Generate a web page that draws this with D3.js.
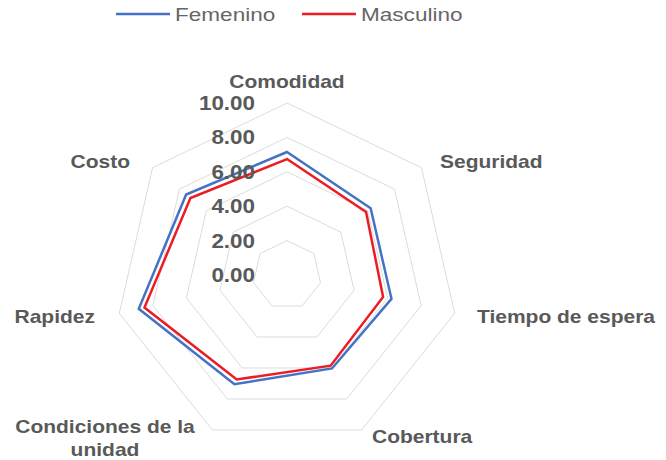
<!DOCTYPE html>
<html>
<head>
<meta charset="utf-8">
<script src="https://cdn.jsdelivr.net/npm/d3@7"></script>
<style>
  body { margin: 0; background: #fff; }
  text { font-family: "Liberation Sans", Arial, sans-serif; }
</style>
</head>
<body>
<div id="chart"></div>
<script>
var categories = ["Comodidad", "Seguridad", "Tiempo de espera", "Cobertura",
                  "Condiciones de la unidad", "Rapidez", "Costo"];
var femenino  = [7.15, 6.22, 6.23, 6.03, 7.05, 8.84, 7.5];
var masculino = [6.74, 5.88, 5.73, 5.85, 6.74, 8.5, 7.18];
var tickValues = [0, 2, 4, 6, 8, 10];

var width = 666, height = 460;
var cx = 287, cy = 275, radius = 172;

var svg = d3.select("#chart").append("svg")
    .attr("width", width)
    .attr("height", height);

var r = d3.scaleLinear().domain([0, 10]).range([0, radius]);
var angle = d3.scaleLinear().domain([0, categories.length]).range([0, 2 * Math.PI]);

var g = svg.append("g").attr("transform", "translate(" + cx + "," + cy + ")");

var radial = d3.lineRadial()
    .angle(function(d, i) { return angle(i); })
    .radius(function(d) { return r(d); })
    .curve(d3.curveLinearClosed);

// grid rings
g.selectAll(".ring")
  .data(tickValues.slice(1))
  .enter().append("path")
    .attr("class", "ring")
    .attr("d", function(t) { return radial(categories.map(function() { return t; })); })
    .attr("fill", "none")
    .attr("stroke", "#dcdcdc")
    .attr("stroke-width", 1);

// series
var series = [
  {name: "Femenino", values: femenino, color: "#4472c4"},
  {name: "Masculino", values: masculino, color: "#ec1c24"}
];

g.selectAll(".series")
  .data(series)
  .enter().append("path")
    .attr("class", "series")
    .attr("d", function(d) { return radial(d.values); })
    .attr("fill", "none")
    .attr("stroke", function(d) { return d.color; })
    .attr("stroke-width", 2.5);

// tick labels
g.selectAll(".tick")
  .data(tickValues)
  .enter().append("text")
    .attr("class", "tick")
    .attr("transform", function(t) { return "translate(-32," + (-r(t) + 7) + ") scale(1.12,1)"; })
    .attr("text-anchor", "end")
    .attr("font-size", 20)
    .attr("font-weight", "bold")
    .attr("fill", "#595959")
    .text(function(t) { return t.toFixed(2); });

// axis labels
var labelPos = [
  {x: 287, y: 88, anchor: "middle"},
  {x: 440, y: 168, anchor: "start"},
  {x: 477, y: 323, anchor: "start"},
  {x: 372, y: 443, anchor: "start"},
  {x: 105, y: 433, anchor: "middle"},
  {x: 95, y: 323, anchor: "end"},
  {x: 130, y: 168, anchor: "end"}
];

var labels = svg.selectAll(".axis-label")
  .data(categories)
  .enter().append("text")
    .attr("class", "axis-label")
    .attr("transform", function(d, i) { return "translate(" + labelPos[i].x + "," + labelPos[i].y + ") scale(1.2,1)"; })
    .attr("text-anchor", function(d, i) { return labelPos[i].anchor; })
    .attr("font-size", 17.5)
    .attr("font-weight", "bold")
    .attr("fill", "#595959");

labels.each(function(d) {
  var t = d3.select(this);
  if (d === "Condiciones de la unidad") {
    t.append("tspan").attr("x", 0).attr("dy", 0).text("Condiciones de la");
    t.append("tspan").attr("x", 0).attr("dy", 23).text("unidad");
  } else {
    t.text(d);
  }
});

// legend
var legendX = [116, 302];
var legend = svg.selectAll(".legend")
  .data(series)
  .enter().append("g")
    .attr("class", "legend")
    .attr("transform", function(d, i) { return "translate(" + legendX[i] + ",14)"; });

legend.append("line")
    .attr("x1", 0).attr("x2", 54)
    .attr("y1", 0).attr("y2", 0)
    .attr("stroke", function(d) { return d.color; })
    .attr("stroke-width", 2.5);

legend.append("text")
    .attr("transform", "translate(59,7) scale(1.22,1)")
    .attr("font-size", 18.5)
    .attr("font-family", "Lato, sans-serif")
    .attr("fill", "#666")
    .text(function(d) { return d.name; });
</script>
</body>
</html>
